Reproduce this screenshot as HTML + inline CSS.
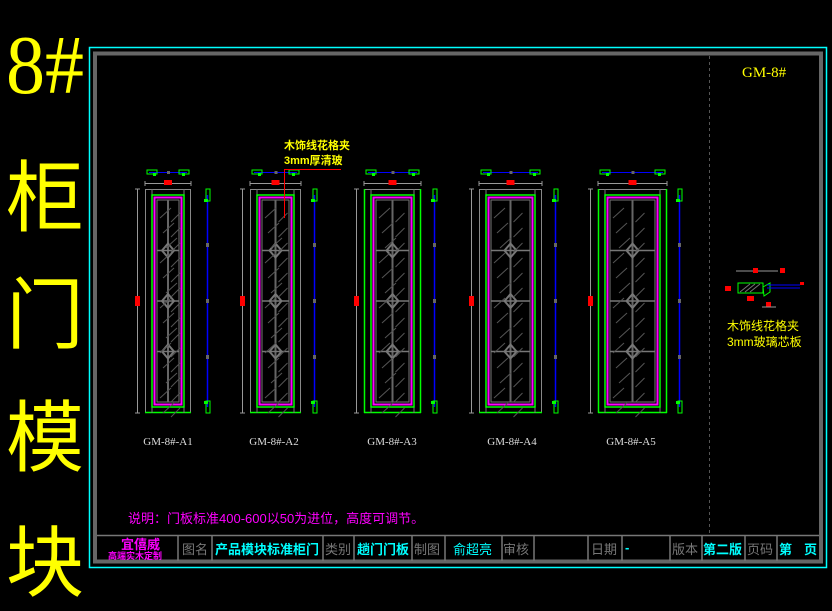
<!DOCTYPE html>
<html><head><meta charset="utf-8">
<style>
html,body{margin:0;padding:0;background:#000;width:832px;height:611px;overflow:hidden}
svg{display:block}
text{font-family:"Liberation Sans","Noto Sans CJK SC",sans-serif}
.serif{font-family:"Liberation Serif","Noto Serif CJK SC",serif}
</style></head><body>
<svg id="s" width="832" height="611" viewBox="0 0 832 611" xmlns="http://www.w3.org/2000/svg">
<rect width="832" height="611" fill="#000"/>
<text x="6" y="93" font-size="84" fill="#ff0" class="serif" textLength="78" lengthAdjust="spacingAndGlyphs">8#</text>
<text x="6" y="225" font-size="78" fill="#ff0" font-family="Noto Sans CJK SC,sans-serif">柜</text>
<text x="6" y="342" font-size="78" fill="#ff0" font-family="Noto Sans CJK SC,sans-serif">门</text>
<text x="6" y="465" font-size="78" fill="#ff0" font-family="Noto Sans CJK SC,sans-serif">模</text>
<text x="6" y="590" font-size="78" fill="#ff0" font-family="Noto Sans CJK SC,sans-serif">块</text>
<rect x="89.5" y="47.5" width="737" height="520" fill="none" stroke="#0ff" stroke-width="1.5"/>
<rect x="95" y="53.5" width="726" height="508" fill="none" stroke="#666" stroke-width="4"/>
<line x1="97" y1="535.5" x2="819" y2="535.5" stroke="#777" stroke-width="1.5"/>
<line x1="709.5" y1="56" x2="709.5" y2="535" stroke="#555" stroke-dasharray="3,3"/>
<text x="742" y="77" font-size="15" fill="#ff0" class="serif">GM-8#</text>
<g id="doors"></g>
<text x="284" y="149" font-size="11" font-weight="bold" fill="#ff0">木饰线花格夹</text>
<text x="284" y="164" font-size="11" font-weight="bold" fill="#ff0">3mm厚清玻</text>
<polyline points="341,169.5 284.5,169.5 284.5,218" fill="none" stroke="#f00"/>
<g>
<line x1="736" y1="271" x2="778" y2="271" stroke="#999"/>
<rect x="753" y="268" width="5" height="5" fill="#f00"/>
<rect x="780" y="268" width="5" height="5" fill="#f00"/>
<rect x="725" y="286" width="6" height="5" fill="#f00"/>
<rect x="747" y="296" width="7" height="5" fill="#f00"/>
<rect x="766" y="302" width="5" height="5" fill="#f00"/>
<rect x="738" y="283" width="25" height="10" fill="none" stroke="#0f0"/>
<path d="M740 292 L750 284 M745 292 L755 284 M750 292 L760 284" stroke="#777"/>
<path d="M763 287 L770 283 L770 292 L764 296 Z" fill="none" stroke="#0f0"/>
<line x1="767" y1="285" x2="800" y2="285" stroke="#00f"/>
<line x1="767" y1="288" x2="800" y2="288" stroke="#00f"/>
<rect x="800" y="282" width="4" height="3" fill="#f00"/>
<line x1="762" y1="307" x2="776" y2="307" stroke="#999"/>
</g>
<text x="727" y="330" font-size="12" fill="#ff0">木饰线花格夹</text>
<text x="727" y="346" font-size="12" fill="#ff0">3mm玻璃芯板</text>
<text x="128" y="523" font-size="13" fill="#f0f">说明：门板标准400-600以50为进位，高度可调节。</text>
<g stroke="#777" stroke-width="1.5">
<line x1="178" y1="535" x2="178" y2="561"/><line x1="212" y1="535" x2="212" y2="561"/>
<line x1="323" y1="535" x2="323" y2="561"/><line x1="354" y1="535" x2="354" y2="561"/>
<line x1="412" y1="535" x2="412" y2="561"/><line x1="445" y1="535" x2="445" y2="561"/>
<line x1="502" y1="535" x2="502" y2="561"/><line x1="534" y1="535" x2="534" y2="561"/>
<line x1="588" y1="535" x2="588" y2="561"/><line x1="622" y1="535" x2="622" y2="561"/>
<line x1="670" y1="535" x2="670" y2="561"/><line x1="702" y1="535" x2="702" y2="561"/>
<line x1="745" y1="535" x2="745" y2="561"/><line x1="777" y1="535" x2="777" y2="561"/>
</g>
<g font-size="13" font-weight="bold">
<text x="121" y="549" font-size="13" fill="#f0f">宜僖威</text>
<text x="108" y="559" font-size="9" fill="#f0f">高端实木定制</text>
<text x="182" y="554" fill="#777" font-weight="normal">图名</text>
<text x="215" y="554" fill="#0ff">产品模块标准柜门</text>
<text x="325" y="554" fill="#777" font-weight="normal">类别</text>
<text x="357" y="554" fill="#0ff">趟门门板</text>
<text x="414" y="554" fill="#777" font-weight="normal">制图</text>
<text x="453" y="554" fill="#0ff" font-weight="normal">俞超亮</text>
<text x="503" y="554" fill="#777" font-weight="normal">审核</text>
<text x="591" y="554" fill="#777" font-weight="normal">日期</text>
<text x="625" y="552" fill="#0ff">-</text>
<text x="672" y="554" fill="#777" font-weight="normal">版本</text>
<text x="703" y="554" fill="#0ff">第二版</text>
<text x="747" y="554" fill="#777" font-weight="normal">页码</text>
<text x="779" y="554" fill="#0ff">第</text>
<text x="804" y="554" fill="#0ff">页</text>
</g>
</svg>
<script>
var g=document.getElementById('doors'),h='';
function L(a,b,c,d,col,w){h+='<line x1="'+a+'" y1="'+b+'" x2="'+c+'" y2="'+d+'" stroke="'+col+'" stroke-width="'+(w||1)+'"/>';}
function R(x,y,w,hh,col,fill,sw){h+='<rect x="'+x+'" y="'+y+'" width="'+w+'" height="'+hh+'" fill="'+(fill||'none')+'" stroke="'+(col||'none')+'" stroke-width="'+(sw||1)+'"/>';}
function door(x0,x1,bx,lab,lx,grn){
 var y0=189,y1=413,m=(x0+x1)/2;
 L(x0+4,172.5,x1-4,172.5,'#00f');R(x0+2,170,10,4,'#0f0');R(x1-12,170,10,4,'#0f0');
 R(x0+8,173,3,3,null,'#0f0');R(x1-9,173,3,3,null,'#0f0');R(m-1,171,3,3,null,'#666');
 L(x0,183.5,x1,183.5,'#999');L(x0,181,x0,186,'#999');L(x1,181,x1,186,'#999');R(m-4,180,8,5,null,'#f00');
 L(x0-7.5,y0,x0-7.5,y1,'#999');L(x0-10,y0,x0-5,y0,'#999');L(x0-10,y1,x0-5,y1,'#999');R(x0-10,296,5,10,null,'#f00');
 R(x0+.5,y0+.5,x1-x0-1,y1-y0-1,'#888');
 if(grn){L(x0+.5,y0,x0+.5,y1,'#0f0',1.5);L(x1-.5,y0,x1-.5,y1,'#0f0',1.5);}
 L(x0,y1-.5,x1,y1-.5,'#0f0',1.5);
 L(x0+7,y0,x0+7,y1,'#777');L(x1-7,y0,x1-7,y1,'#777');
 R(x0+7,y0+6,x1-x0-14,y1-y0-12,'#0f0',null,1.5);
 R(x0+9.5,y0+8.5,x1-x0-19,y1-y0-17,'#f0f',null,2);
 var gx0=x0+12,gx1=x1-12,gy0=y0+11,gy1=y1-11;
 R(gx0,gy0,gx1-gx0,gy1-gy0,'#777');
 L(m,gy0,m,gy1,'#666',2);
 var hs=(gy1-gy0)/4;
 for(var k=1;k<4;k++){var yy=gy0+hs*k;L(gx0,yy,gx1,yy,'#777',1.5);
  h+='<path d="M'+(m-6)+' '+yy+' L'+m+' '+(yy-7)+' L'+(m+6)+' '+yy+' L'+m+' '+(yy+7)+' Z" fill="none" stroke="#777" stroke-width="2"/>';}
 for(var j=0;j<14;j++){var yy=gy0+8+j*15;L(gx0+3+(j%3)*3,yy+10,gx0+14+(j%3)*3,yy,'#555');L(m+3,yy+14,m+12,yy+5,'#555');}
 L(bx+.5,y0+6,bx+.5,y1-6,'#00f',1.5);R(bx-1,y0,4,12,'#0f0');R(bx-1,y1-12,4,12,'#0f0');
 R(bx-3,y0+10,4,3,null,'#0f0');R(bx-3,y1-12,4,3,null,'#0f0');
 for(var k=1;k<4;k++)R(bx-1,y0+(y1-y0)/4*k-2,3,4,null,'#666');
 h+='<text x="'+lx+'" y="445" font-size="11" fill="#ddd" class="serif" text-anchor="middle">'+lab+'</text>';
}
door(145,191,207,'GM-8#-A1',168,false);
door(250,301,314,'GM-8#-A2',274,false);
door(364,421,434,'GM-8#-A3',392,true);
door(479,542,555,'GM-8#-A4',512,false);
door(598,667,679,'GM-8#-A5',631,true);
g.innerHTML=h;
</script>
</body></html>
